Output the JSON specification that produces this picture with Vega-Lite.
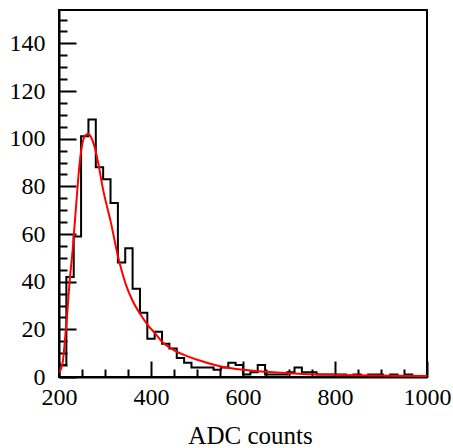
{
  "$schema": "https://vega.github.io/schema/vega-lite/v6.json",
  "width": 368,
  "height": 367,
  "autosize": {"type": "none"},
  "padding": {"left": 59, "top": 10, "right": 26, "bottom": 71},
  "background": "white",
  "config": {
    "font": "Liberation Serif",
    "view": {"stroke": "black", "strokeWidth": 2},
    "axis": {
      "labelFont": "Liberation Serif",
      "labelFontSize": 24,
      "labelColor": "black",
      "titleFont": "Liberation Serif",
      "titleFontSize": 25,
      "titleFontWeight": "normal",
      "titleColor": "black",
      "domainColor": "black",
      "domainWidth": 2,
      "tickColor": "black",
      "tickWidth": 2,
      "grid": false,
      "labelFlush": false,
      "labelOverlap": false
    }
  },
  "datasets": {
    "hist": [
      {"adc": 200, "counts": 5}, {"adc": 216, "counts": 42}, {"adc": 232, "counts": 59},
      {"adc": 248, "counts": 101}, {"adc": 264, "counts": 108}, {"adc": 280, "counts": 88},
      {"adc": 296, "counts": 83}, {"adc": 312, "counts": 73}, {"adc": 328, "counts": 48},
      {"adc": 344, "counts": 54}, {"adc": 360, "counts": 37}, {"adc": 376, "counts": 27},
      {"adc": 392, "counts": 16}, {"adc": 408, "counts": 19}, {"adc": 424, "counts": 14},
      {"adc": 440, "counts": 12}, {"adc": 456, "counts": 8}, {"adc": 472, "counts": 6},
      {"adc": 488, "counts": 4}, {"adc": 504, "counts": 4}, {"adc": 520, "counts": 4},
      {"adc": 536, "counts": 3}, {"adc": 552, "counts": 4}, {"adc": 568, "counts": 6},
      {"adc": 584, "counts": 5}, {"adc": 600, "counts": 1}, {"adc": 616, "counts": 2},
      {"adc": 632, "counts": 5}, {"adc": 648, "counts": 1}, {"adc": 664, "counts": 1},
      {"adc": 680, "counts": 1}, {"adc": 696, "counts": 2}, {"adc": 712, "counts": 4},
      {"adc": 728, "counts": 2}, {"adc": 744, "counts": 2}, {"adc": 760, "counts": 1},
      {"adc": 776, "counts": 1}, {"adc": 792, "counts": 1}, {"adc": 808, "counts": 1},
      {"adc": 824, "counts": 0}, {"adc": 840, "counts": 1}, {"adc": 856, "counts": 0},
      {"adc": 872, "counts": 1}, {"adc": 888, "counts": 1}, {"adc": 904, "counts": 0},
      {"adc": 920, "counts": 1}, {"adc": 936, "counts": 0}, {"adc": 952, "counts": 1},
      {"adc": 968, "counts": 0}, {"adc": 984, "counts": 0}, {"adc": 1000, "counts": 0}
    ],
    "fit": [
      {"adc": 200, "f": 2}, {"adc": 207, "f": 5}, {"adc": 215, "f": 20},
      {"adc": 224, "f": 42}, {"adc": 230, "f": 54}, {"adc": 238, "f": 74},
      {"adc": 245, "f": 90}, {"adc": 252, "f": 99}, {"adc": 258, "f": 101.5},
      {"adc": 264, "f": 102}, {"adc": 270, "f": 100.5}, {"adc": 276, "f": 97.5},
      {"adc": 285, "f": 90}, {"adc": 296, "f": 78.5}, {"adc": 312, "f": 65.5},
      {"adc": 329, "f": 50}, {"adc": 345, "f": 39}, {"adc": 360, "f": 32},
      {"adc": 378, "f": 26}, {"adc": 393, "f": 21.8}, {"adc": 409, "f": 18.3},
      {"adc": 425, "f": 14.6}, {"adc": 440, "f": 12.4}, {"adc": 456, "f": 10.6},
      {"adc": 473, "f": 9.2}, {"adc": 504, "f": 7.0}, {"adc": 550, "f": 4.5},
      {"adc": 600, "f": 3.0}, {"adc": 650, "f": 2.2}, {"adc": 700, "f": 1.6},
      {"adc": 800, "f": 0.9}, {"adc": 900, "f": 0.6}, {"adc": 1000, "f": 0.4}
    ]
  },
  "layer": [
    {
      "data": {"name": "hist"},
      "mark": {"type": "line", "interpolate": "step-after", "color": "black", "strokeWidth": 2, "clip": true},
      "encoding": {
        "x": {
          "field": "adc", "type": "quantitative",
          "scale": {"domain": [200, 1000], "nice": false, "zero": false},
          "axis": {
            "values": [200,250,300,350,400,450,500,550,600,650,700,750,800,850,900,950,1000],
            "format": "d",
            "labelFont": "Liberation Serif",
            "labelFontSize": 24,
            "labelExpr": "datum.value % 200 === 0 ? datum.label : ''",
            "tickSize": {"condition": {"test": "datum.value % 200 === 0", "value": -16}, "value": -8},
            "labelPadding": 24,
            "title": "ADC counts",
            "titleX": 191,
            "titleY": 66,
            "titleBaseline": "alphabetic",
            "titleAlign": "center"
          }
        },
        "y": {
          "field": "counts", "type": "quantitative",
          "scale": {"domain": [0, 154], "nice": false},
          "axis": {
            "values": [0,5,10,15,20,25,30,35,40,45,50,55,60,65,70,75,80,85,90,95,100,105,110,115,120,125,130,135,140,145,150],
            "format": "d",
            "labelFont": "Liberation Serif",
            "labelFontSize": 24,
            "labelExpr": "datum.value % 20 === 0 ? datum.label : ''",
            "tickSize": {"condition": {"test": "datum.value % 20 === 0", "value": -17}, "value": -8},
            "labelPadding": 31,
            "title": null
          }
        }
      }
    },
    {
      "data": {"name": "fit"},
      "mark": {"type": "line", "interpolate": "monotone", "color": "#ff0000", "strokeWidth": 2, "clip": true},
      "encoding": {
        "x": {
          "field": "adc", "type": "quantitative",
          "axis": {
            "values": [200,250,300,350,400,450,500,550,600,650,700,750,800,850,900,950,1000],
            "format": "d",
            "labelFont": "Liberation Serif",
            "labelFontSize": 24,
            "labelExpr": "datum.value % 200 === 0 ? datum.label : ''",
            "tickSize": {"condition": {"test": "datum.value % 200 === 0", "value": -16}, "value": -8},
            "labelPadding": 24,
            "title": "ADC counts",
            "titleX": 191,
            "titleY": 66,
            "titleBaseline": "alphabetic",
            "titleAlign": "center"
          }
        },
        "y": {
          "field": "f", "type": "quantitative",
          "axis": {
            "values": [0,5,10,15,20,25,30,35,40,45,50,55,60,65,70,75,80,85,90,95,100,105,110,115,120,125,130,135,140,145,150],
            "format": "d",
            "labelFont": "Liberation Serif",
            "labelFontSize": 24,
            "labelExpr": "datum.value % 20 === 0 ? datum.label : ''",
            "tickSize": {"condition": {"test": "datum.value % 20 === 0", "value": -17}, "value": -8},
            "labelPadding": 31,
            "title": null
          }
        }
      }
    }
  ]
}
